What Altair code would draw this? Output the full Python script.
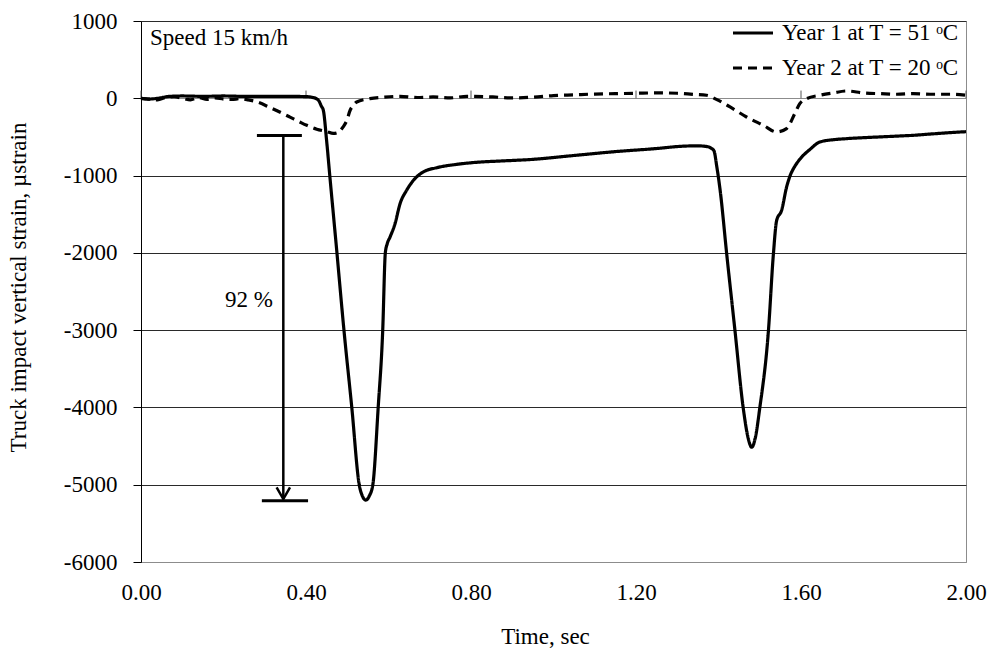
import altair as alt
import pandas as pd

FONT = "Liberation Serif"

series_names = ["Year 1 at T = 51 ᵒC", "Year 2 at T = 20 ᵒC"]

year1_time = [0.00, 0.02, 0.04, 0.07, 0.10, 0.15, 0.20, 0.25, 0.30, 0.35, 0.40, 0.415,
              0.425, 0.432, 0.437, 0.442, 0.450, 0.458, 0.475, 0.492, 0.511, 0.529, 0.537,
              0.545, 0.553, 0.562, 0.575, 0.586, 0.5923, 0.597, 0.6036, 0.6158, 0.628,
              0.644, 0.664, 0.684, 0.717, 0.765, 0.822, 0.870, 0.95, 1.05, 1.15, 1.25,
              1.31, 1.35, 1.372, 1.382, 1.389, 1.396, 1.404, 1.42, 1.44, 1.46, 1.472,
              1.4805, 1.489, 1.50, 1.521, 1.533, 1.541, 1.553, 1.565, 1.573, 1.585, 1.597,
              1.622, 1.646, 1.68, 1.711, 1.75, 1.791, 1.83, 1.872, 1.92, 1.96, 2.00]
year1_strain = [0, -10, 0, 25, 30, 25, 30, 25, 25, 25, 22, 12,
                -5, -40, -100, -155, -550, -1020, -2000, -3000, -4000, -5000, -5150,
                -5200, -5150, -5000, -4000, -3000, -2000, -1880, -1797, -1623, -1364,
                -1190, -1040, -954, -898, -855, -825, -812, -790, -740, -690, -650,
                -621, -615, -625, -645, -680, -889, -1191, -2020, -3010, -4010, -4400,
                -4515, -4400, -4010, -3010, -2020, -1580, -1450, -1150, -1010, -880, -790,
                -660, -565, -535, -522, -510, -500, -490, -479, -460, -445, -432]

year2_time = [0.00, 0.02, 0.04, 0.06, 0.08, 0.10, 0.12, 0.14, 0.16, 0.18, 0.20, 0.22,
              0.24, 0.26, 0.28, 0.313, 0.36, 0.385, 0.402, 0.426, 0.45, 0.466, 0.474,
              0.49, 0.499, 0.507, 0.515, 0.523, 0.555, 0.59, 0.628, 0.67, 0.708, 0.75,
              0.79, 0.853, 0.90, 0.95, 1.00, 1.05, 1.10, 1.15, 1.20, 1.25, 1.30, 1.34,
              1.371, 1.396, 1.428, 1.468, 1.509, 1.541, 1.565, 1.585, 1.597, 1.614,
              1.646, 1.678, 1.711, 1.751, 1.791, 1.832, 1.872, 1.921, 1.969, 2.00]
year2_strain = [0, -10, -20, 10, 20, 0, -20, 10, -15, 5, -10, -15,
                -5, -20, -45, -120, -240, -307, -350, -400, -430, -455, -449,
                -371, -285, -155, -90, -48, -5, 15, 26, 10, 17, 5,
                26, 17, 5, 15, 35, 45, 55, 60, 65, 70, 65, 50,
                39, -17, -112, -242, -350, -436, -392, -198, -69, -4,
                39, 69, 95, 69, 60, 52, 60, 52, 52, 39]

x_tick_values = [0.0, 0.4, 0.8, 1.2, 1.6, 2.0]
y_tick_values = [-6000, -5000, -4000, -3000, -2000, -1000, 0, 1000]

# annotation: range bars, arrow, labels
bar_time_start = [0.281, 0.293]
bar_time_end = [0.390, 0.405]
bar_strain = [-480, -5207]
arrow_time = [0.345]
arrow_top = [-480]
arrow_tip = [-5185]
pct_text = ["92 %"]
pct_time = [0.262]
pct_strain = [-2607]
speed_text = ["Speed 15 km/h"]
speed_time = [0.022]
speed_strain = [783]
zero_tick_top = [100] * len(x_tick_values)

lines_df = pd.concat([
    pd.DataFrame({"time": year1_time, "strain": year1_strain, "series": series_names[0]}),
    pd.DataFrame({"time": year2_time, "strain": year2_strain, "series": series_names[1]}),
], ignore_index=True)

bars_df = pd.DataFrame({"time": bar_time_start, "time_end": bar_time_end, "strain": bar_strain})
arrow_df = pd.DataFrame({"time": arrow_time, "strain": arrow_top, "strain_end": arrow_tip})
pct_df = pd.DataFrame({"time": pct_time, "strain": pct_strain, "label": pct_text})
speed_df = pd.DataFrame({"time": speed_time, "strain": speed_strain, "label": speed_text})
zticks_df = pd.DataFrame({"time": x_tick_values, "strain": [0] * len(x_tick_values),
                          "strain_end": zero_tick_top})

x_scale = alt.Scale(domain=[0, 2], nice=False, zero=False)
y_scale = alt.Scale(domain=[-6000, 1000], nice=False, zero=False)
X_TITLE = "Time, sec"
Y_TITLE = "Truck impact vertical strain, µstrain"

x_axis = alt.Axis(
    values=x_tick_values, format=".2f", labelFont=FONT, labelFontSize=23,
    labelColor="black", labelPadding=19, labelFlush=False, labelOverlap=False,
    ticks=False, tickSize=0, domain=True, domainColor="#8c8c8c", domainWidth=1,
    grid=False, titleFont=FONT, titleFontSize=23, titleFontWeight="normal",
    titleColor="black", titleX=404, titleY=74, titleBaseline="middle", titleAlign="center",
)
y_axis = alt.Axis(
    values=y_tick_values, labelExpr="'' + datum.value", labelFont=FONT, labelFontSize=23,
    labelColor="black", labelPadding=16, labelOverlap=False, ticks=True, tickSize=8,
    tickColor="black", tickWidth=1, domain=True, domainColor="black", domainWidth=1,
    grid=True,
    gridColor={"condition": {"test": "datum.value === 0 || datum.value === -6000",
                             "value": "#8c8c8c"}, "value": "#2a2a2a"},
    gridWidth=1, titleFont=FONT, titleFontSize=23, titleFontWeight="normal",
    titleColor="black", titleX=-123, titleY=266, titleAngle=270,
    titleBaseline="middle", titleAlign="center",
)

zero_ticks = alt.Chart(zticks_df).mark_rule(color="#555555", strokeWidth=1).encode(
    x=alt.X("time:Q", scale=x_scale, axis=x_axis, title=X_TITLE),
    y=alt.Y("strain:Q", scale=y_scale, axis=y_axis, title=Y_TITLE),
    y2="strain_end:Q",
)

lines = alt.Chart(lines_df).mark_line(color="black", strokeWidth=3.2, interpolate="monotone").encode(
    x=alt.X("time:Q", scale=x_scale, title=X_TITLE),
    y=alt.Y("strain:Q", scale=y_scale, title=Y_TITLE),
    strokeDash=alt.StrokeDash(
        "series:N",
        scale=alt.Scale(domain=series_names, range=[[1, 0], [9, 6]]),
        legend=alt.Legend(
            title=None, orient="none", legendX=594.5, legendY=-5.5, padding=0,
            symbolType="M-1.25,0L1.25,0", symbolSize=1024, symbolStrokeWidth=3,
            symbolStrokeColor="black", symbolFillColor="transparent",
            labelFont=FONT, labelFontSize=23, labelColor="black", labelOffset=11.5,
            rowPadding=5, labelLimit=400,
        ),
    ),
)

bars = alt.Chart(bars_df).mark_rule(color="black", strokeWidth=3).encode(
    x=alt.X("time:Q", scale=x_scale, title=X_TITLE),
    x2="time_end:Q",
    y=alt.Y("strain:Q", scale=y_scale, title=Y_TITLE),
)

shaft = alt.Chart(arrow_df).mark_rule(color="black", strokeWidth=2.5).encode(
    x=alt.X("time:Q", scale=x_scale, title=X_TITLE),
    y=alt.Y("strain:Q", scale=y_scale, title=Y_TITLE),
    y2="strain_end:Q",
)

head = alt.Chart(arrow_df).mark_point(
    shape="M-1,-1.75L0,0L1,-1.75", filled=False, color="black", strokeWidth=2.5,
    size=180, opacity=1,
).encode(
    x=alt.X("time:Q", scale=x_scale, title=X_TITLE),
    y=alt.Y("strain_end:Q", scale=y_scale, title=Y_TITLE),
)

pct = alt.Chart(pct_df).mark_text(font=FONT, fontSize=23, color="black", align="center",
                                  baseline="middle").encode(
    x=alt.X("time:Q", scale=x_scale, title=X_TITLE),
    y=alt.Y("strain:Q", scale=y_scale, title=Y_TITLE),
    text="label:N",
)

speed = alt.Chart(speed_df).mark_text(font=FONT, fontSize=23, color="black", align="left",
                                      baseline="middle").encode(
    x=alt.X("time:Q", scale=x_scale, title=X_TITLE),
    y=alt.Y("strain:Q", scale=y_scale, title=Y_TITLE),
    text="label:N",
)

chart = alt.layer(zero_ticks, lines, bars, shaft, head, pct, speed).properties(
    width=825, height=541,
    autosize=alt.AutoSizeParams(type="none"),
    padding={"left": 141, "top": 21, "right": 24, "bottom": 86},
    background="white",
).configure_view(stroke="#8c8c8c", strokeWidth=1)

chart.save("out.html", embed_options={"renderer": "svg", "actions": False})
